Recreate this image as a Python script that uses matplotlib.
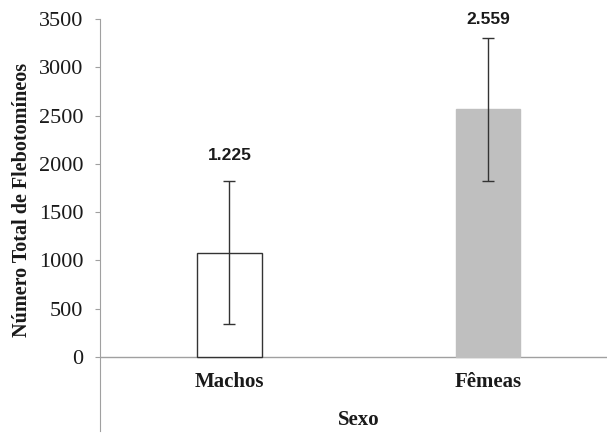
import matplotlib
matplotlib.use('Agg')
import matplotlib.pyplot as plt

# dados
categorias = ["Machos", "Fêmeas"]
medias = [1080, 2564]
erros = [742, 742]
rotulos = ["1.225", "2.559"]
rotulos_y = [2090, 3495]
yticks = [0, 500, 1000, 1500, 2000, 2500, 3000, 3500]

plt.rcParams['font.family'] = ['Liberation Serif', 'DejaVu Serif']

fig = plt.figure(figsize=(6.07, 4.33), dpi=100)
# eixo: y=3500 no pixel 19, y=0 no pixel 357
ax = fig.add_axes([100 / 607, 2 / 433, 507 / 607, 412 / 433])

x = range(len(categorias))
ax.bar(x, medias, width=0.25, color=["white", "#bfbfbf"],
       edgecolor=["#333333", "#bfbfbf"], linewidth=1, zorder=2)
ax.errorbar(x, medias, yerr=erros, fmt='none', ecolor="#333333",
            elinewidth=1, capsize=4, capthick=1, zorder=3)

for xi, lab, yl in zip(x, rotulos, rotulos_y):
    ax.text(xi, yl, lab, ha='center', va='center', fontsize=12.5,
            fontweight='bold', family=['Liberation Sans', 'DejaVu Sans'],
            color="#1a1a1a")

for xi, cat in zip(x, categorias):
    ax.text(xi, -260, cat, ha='center', va='center', fontsize=15,
            fontweight='bold', color="#1a1a1a")
ax.text(0.5, -650, "Sexo", ha='center', va='center', fontsize=15,
        fontweight='bold', color="#1a1a1a")

ax.axhline(0, color="#a0a0a0", linewidth=1, zorder=1)
ax.set_xlim(-0.5, 1.46)
ax.set_ylim(-766, 3500)
ax.set_yticks(yticks)
ax.set_yticklabels([str(v) for v in yticks], fontsize=16, color="#1a1a1a")
ax.set_xticks([])
ax.tick_params(axis='y', direction='out', length=3.6, color="#a0a0a0", pad=8.5)
for s in ['top', 'right', 'bottom']:
    ax.spines[s].set_visible(False)
ax.spines['left'].set_color("#a0a0a0")
ax.set_ylabel("Número Total de Flebotomíneos", fontsize=14.5,
              fontweight='bold', color="#1a1a1a")
ax.yaxis.set_label_coords(-0.134, 0.56)

plt.savefig("out.png", dpi=100)
plt.close()
